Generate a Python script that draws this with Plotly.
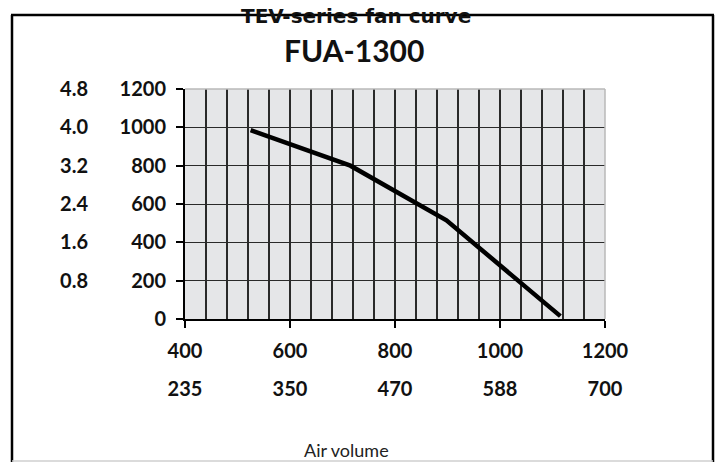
import plotly.graph_objects as go

# ---- data ----
air_volume = [525, 715, 898, 1115]
pressure = [985, 800, 515, 15]

x_tickvals = [400, 600, 800, 1000, 1200]
x_ticktext = ["400", "600", "800", "1000", "1200"]
x_ticktext_alt = ["235", "350", "470", "588", "700"]

y_tickvals = [0, 200, 400, 600, 800, 1000, 1200]
y_ticktext = ["0", "200", "400", "600", "800", "1000", "1200"]
y2_tickvals = [0.8, 1.6, 2.4, 3.2, 4.0, 4.8]
y2_ticktext = ["0.8", "1.6", "2.4", "3.2", "4.0", "4.8"]

title_line1 = "TEV-series fan curve"
title_line2 = "FUA-1300"
x_title = "Air volume"

# ---- geometry helpers (page pixels -> paper) ----
W, H = 721, 462
ML, MR, MT, MB = 12, 8, 15, 0
PW, PH = W - ML - MR, H - MT - MB


def px(xp):
    return (xp - ML) / PW


def py(yp):
    return (H - MB - yp) / PH


TICKFONT = dict(family="Lato", size=20, color="#111111", weight="bold")
GRID = "#2a2a2a"

fig = go.Figure()
fig.add_trace(go.Scatter(
    x=air_volume, y=pressure, mode="lines",
    line=dict(color="black", width=4.5), showlegend=False, hoverinfo="skip",
))
# invisible helpers so the secondary axes are rendered
fig.add_trace(go.Scatter(x=air_volume, y=pressure, xaxis="x2", yaxis="y",
                         mode="markers", marker=dict(opacity=0), showlegend=False, hoverinfo="skip"))
fig.add_trace(go.Scatter(x=air_volume, y=[p * 4.8 / 1200 for p in pressure], xaxis="x", yaxis="y2",
                         mode="markers", marker=dict(opacity=0), showlegend=False, hoverinfo="skip"))

fig.update_layout(
    width=W, height=H,
    margin=dict(l=ML, r=MR, t=MT, b=MB, autoexpand=False),
    paper_bgcolor="white", plot_bgcolor="#e5e6e8",
    xaxis=dict(
        domain=[px(185), px(605)], range=[400, 1200], anchor="y", automargin=False,
        tickvals=x_tickvals, ticktext=x_ticktext, tickfont=TICKFONT,
        ticks="outside", ticklen=7, tickwidth=2, tickcolor="black",
        showline=True, linecolor="black", linewidth=2,
        showgrid=False, zeroline=False, ticklabelstandoff=6,
        minor=dict(dtick=40, tick0=400, showgrid=True, gridcolor=GRID, gridwidth=1.8),
    ),
    xaxis2=dict(
        overlaying="x", range=[400, 1200], anchor="free", position=py(375), automargin=False,
        side="bottom", tickvals=x_tickvals, ticktext=x_ticktext_alt, tickfont=TICKFONT,
        ticks="", showline=False, showgrid=False, zeroline=False,
    ),
    yaxis=dict(
        domain=[py(319), py(89)], range=[0, 1200], anchor="x", automargin=False,
        tickvals=y_tickvals, ticktext=y_ticktext, tickfont=TICKFONT,
        ticks="outside", ticklen=7, tickwidth=2, tickcolor="black",
        showline=True, linecolor="black", linewidth=2,
        showgrid=True, gridcolor=GRID, gridwidth=1.3, zeroline=False,
        ticklabelstandoff=6,
    ),
    yaxis2=dict(
        overlaying="y", range=[0, 4.8], anchor="free", position=px(88), side="left",
        automargin=False,
        tickvals=y2_tickvals, ticktext=y2_ticktext, tickfont=TICKFONT,
        ticks="", showline=False, showgrid=False, zeroline=False,
    ),
    shapes=[
        # outer frame (open at bottom)
        dict(type="line", xref="paper", yref="paper", x0=px(12), x1=px(12), y0=py(470), y1=py(15),
             line=dict(color="black", width=2.5)),
        dict(type="line", xref="paper", yref="paper", x0=px(713), x1=px(713), y0=py(470), y1=py(15),
             line=dict(color="black", width=2.5)),
        dict(type="line", xref="paper", yref="paper", x0=px(11), x1=px(714), y0=py(15), y1=py(15),
             line=dict(color="black", width=2.5)),
        dict(type="line", xref="paper", yref="paper", x0=px(12), x1=px(713), y0=py(461), y1=py(461),
             line=dict(color="#cfcfcf", width=1.5)),
        # plot-area top and right borders
        dict(type="line", xref="x domain", yref="y domain", x0=0, x1=1, y0=1, y1=1,
             line=dict(color="#b8b8b8", width=1.5)),
        dict(type="line", xref="x domain", yref="y domain", x0=1, x1=1, y0=0, y1=1,
             line=dict(color="#b8b8b8", width=1.5)),
    ],
    annotations=[
        dict(text=title_line1, xref="paper", yref="paper", x=px(356), y=py(15.5),
             xanchor="center", yanchor="middle", showarrow=False,
             font=dict(family="DejaVu Sans", size=20, color="#111111", weight="bold")),
        dict(text=title_line2, xref="paper", yref="paper", x=px(354), y=py(50),
             xanchor="center", yanchor="middle", showarrow=False,
             font=dict(family="Lato", size=30, color="#111111", weight="bold")),
        dict(text=x_title, xref="paper", yref="paper", x=px(346), y=py(450),
             xanchor="center", yanchor="middle", showarrow=False,
             font=dict(family="Lato", size=18, color="#222222")),
    ],
)

fig.write_html("out.html", config={"displayModeBar": False},
               post_script="document.body.style.margin='0px';")
